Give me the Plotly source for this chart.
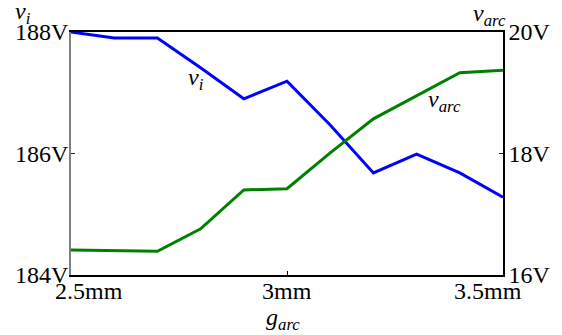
import plotly.graph_objects as go

gap_mm = [2.5, 2.6, 2.7, 2.8, 2.9, 3.0, 3.1, 3.2, 3.3, 3.4, 3.5]
v_i = [188.0, 187.90, 187.90, 187.41, 186.90, 187.19, 186.47, 185.68, 185.99, 185.68, 185.28]
v_arc = [16.41, 16.40, 16.39, 16.76, 17.40, 17.42, 18.01, 18.57, 18.95, 19.33, 19.37]

x_ticks = [2.5, 3.0, 3.5]
x_tick_labels = ["2.5mm", "3mm", "3.5mm"]
x_label_shift = [18, 0, -15]
vi_ticks = [184, 186, 188]
vi_tick_labels = ["184V", "186V", "188V"]
varc_ticks = [16, 18, 20]
varc_tick_labels = ["16V", "18V", "20V"]

FONT = "'Liberation Serif', 'Times New Roman', Times, serif"

fig = go.Figure()
fig.add_trace(go.Scatter(x=gap_mm, y=v_i, mode="lines", line=dict(color="#0000ff", width=3),
                         showlegend=False, yaxis="y", cliponaxis=False, hoverinfo="skip"))
fig.add_trace(go.Scatter(x=gap_mm, y=v_arc, mode="lines", line=dict(color="#008000", width=3),
                         showlegend=False, yaxis="y2", cliponaxis=False, hoverinfo="skip"))

fig.update_layout(
    width=562, height=335,
    margin=dict(l=71, r=59, t=32, b=60, autoexpand=False),
    paper_bgcolor="white", plot_bgcolor="white",
    font=dict(family=FONT, size=24, color="black"),
    xaxis=dict(range=[2.5, 3.5], tickvals=x_ticks, ticktext=["", "", ""], automargin=False,
               ticks="inside", ticklen=4, tickcolor="black", showgrid=False, zeroline=False,
               showline=True, linecolor="black", linewidth=2, mirror=True),
    yaxis=dict(range=[184, 188], tickvals=vi_ticks, ticktext=vi_tick_labels, automargin=False,
               ticks="inside", ticklen=4, tickcolor="#0000ff", showgrid=False, zeroline=False,
               showline=True, linecolor="#808080", linewidth=1.5, ticklabelstandoff=-4,
               tickfont=dict(family=FONT, size=24)),
    yaxis2=dict(range=[16, 20], tickvals=varc_ticks, ticktext=varc_tick_labels, overlaying="y",
                side="right", ticks="inside", ticklen=4, tickcolor="#0000ff", showgrid=False,
                automargin=False, tickfont=dict(family=FONT, size=24),
                zeroline=False, showline=True, linecolor="black", linewidth=1.5, ticklabelstandoff=-1),
)

for xv, txt, sh in zip(x_ticks, x_tick_labels, x_label_shift):
    fig.add_annotation(x=xv, y=0, xref="x", yref="paper", text=txt, showarrow=False,
                       xanchor="center", yanchor="middle", yshift=-16, xshift=sh,
                       font=dict(family=FONT, size=24))

fig.add_annotation(x=3.0, y=0, xref="x", yref="paper", text="<i>g</i><sub><i>arc</i></sub>",
                   showarrow=False, xanchor="center", yanchor="middle", yshift=-44, xshift=-4,
                   font=dict(family=FONT, size=24))
fig.add_annotation(x=0, y=1, xref="paper", yref="paper", text="<i>v</i><sub><i>i</i></sub>",
                   showarrow=False, xanchor="center", yanchor="middle", xshift=-48, yshift=19,
                   font=dict(family=FONT, size=24))
fig.add_annotation(x=1, y=1, xref="paper", yref="paper", text="<i>v</i><sub><i>arc</i></sub>",
                   showarrow=False, xanchor="center", yanchor="middle", xshift=-14, yshift=17,
                   font=dict(family=FONT, size=24))
fig.add_annotation(x=2.79, y=187.23, xref="x", yref="y", text="<i>v</i><sub><i>i</i></sub>",
                   showarrow=False, xanchor="center", yanchor="middle",
                   font=dict(family=FONT, size=24))
fig.add_annotation(x=3.365, y=186.87, xref="x", yref="y", text="<i>v</i><sub><i>arc</i></sub>",
                   showarrow=False, xanchor="center", yanchor="middle",
                   font=dict(family=FONT, size=24))

fig.write_html("out.html", config={"displayModeBar": False},
               post_script="document.body.style.margin='0';")
